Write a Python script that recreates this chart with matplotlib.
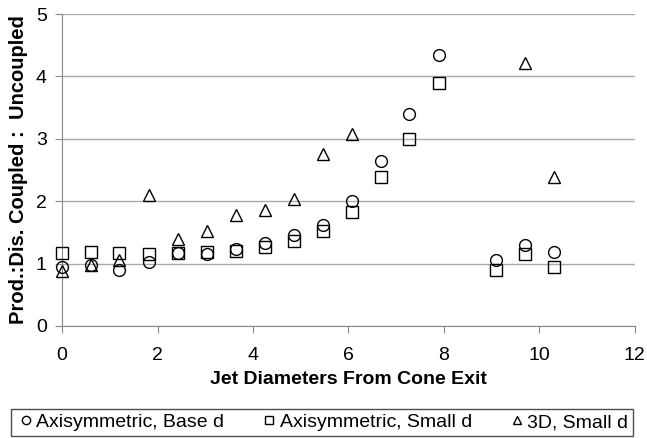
import matplotlib
matplotlib.use("Agg")
import matplotlib.pyplot as plt

matplotlib.rc('font', family='Liberation Sans')

# distance downstream of the cone exit, in jet diameters
x_axi = [0, 0.6, 1.2, 1.82, 2.43, 3.04, 3.65, 4.25, 4.86, 5.46, 6.07, 6.68, 7.28, 7.89, 9.1, 9.7, 10.3]
base_d = [0.95, 0.98, 0.9, 1.03, 1.17, 1.15, 1.24, 1.33, 1.45, 1.62, 2.0, 2.65, 3.4, 4.35, 1.05, 1.3, 1.18]
small_d = [1.17, 1.18, 1.17, 1.16, 1.17, 1.18, 1.2, 1.27, 1.36, 1.52, 1.82, 2.38, 3.0, 3.9, 0.9, 1.15, 0.95]

x_3d = [0, 0.6, 1.2, 1.82, 2.43, 3.04, 3.65, 4.25, 4.86, 5.46, 6.07, 9.7, 10.3]
small_d_3d = [0.88, 0.98, 1.05, 2.1, 1.4, 1.52, 1.78, 1.85, 2.03, 2.75, 3.08, 4.22, 2.38]

labels = ['Axisymmetric, Base d', 'Axisymmetric, Small d', '3D, Small d']

fig = plt.figure(figsize=(6.47, 4.38), dpi=100)
ax = fig.add_axes([0.096, 0.256, 0.885, 0.712])

mk = dict(linestyle='none', markerfacecolor='none', markeredgecolor='black',
          markeredgewidth=1.0, markersize=8.5, clip_on=False, zorder=3)
ax.plot(x_axi, base_d, marker='o', label=labels[0], **mk)
ax.plot(x_axi, small_d, marker='s', label=labels[1], **{**mk, 'markersize': 8})
ax.plot(x_3d, small_d_3d, marker='^', label=labels[2], **mk)

ax.set_xlim(0, 12)
ax.set_ylim(0, 5)
ax.set_xticks(range(0, 13, 2))
ax.set_yticks(range(0, 6))
ax.yaxis.grid(True, color='#aaaaaa', linewidth=1.0)
ax.set_axisbelow(True)
for s in ['top', 'right']:
    ax.spines[s].set_visible(False)
for s in ['left', 'bottom']:
    ax.spines[s].set_color('#888888')
ax.tick_params(axis='both', direction='out', color='#888888', length=5, labelsize=14)
ax.tick_params(axis='x', pad=10)
ax.tick_params(axis='y', pad=6)

ax.set_xlabel('Jet Diameters From Cone Exit', fontsize=14, fontweight='bold', labelpad=5)
ax.set_ylabel('Prod.:Dis. Coupled :  Uncoupled', fontsize=14.5, fontweight='bold', labelpad=6)

leg = fig.legend(loc='lower center', bbox_to_anchor=(0.498, -0.018), ncol=3, fontsize=14,
                 frameon=True, fancybox=False, edgecolor='#222222', handletextpad=0.05,
                 handlelength=1.0, columnspacing=1.8, borderpad=0.25, markerscale=0.7)
leg.get_frame().set_linewidth(1.0)

fig.savefig('out.png', dpi=100)
